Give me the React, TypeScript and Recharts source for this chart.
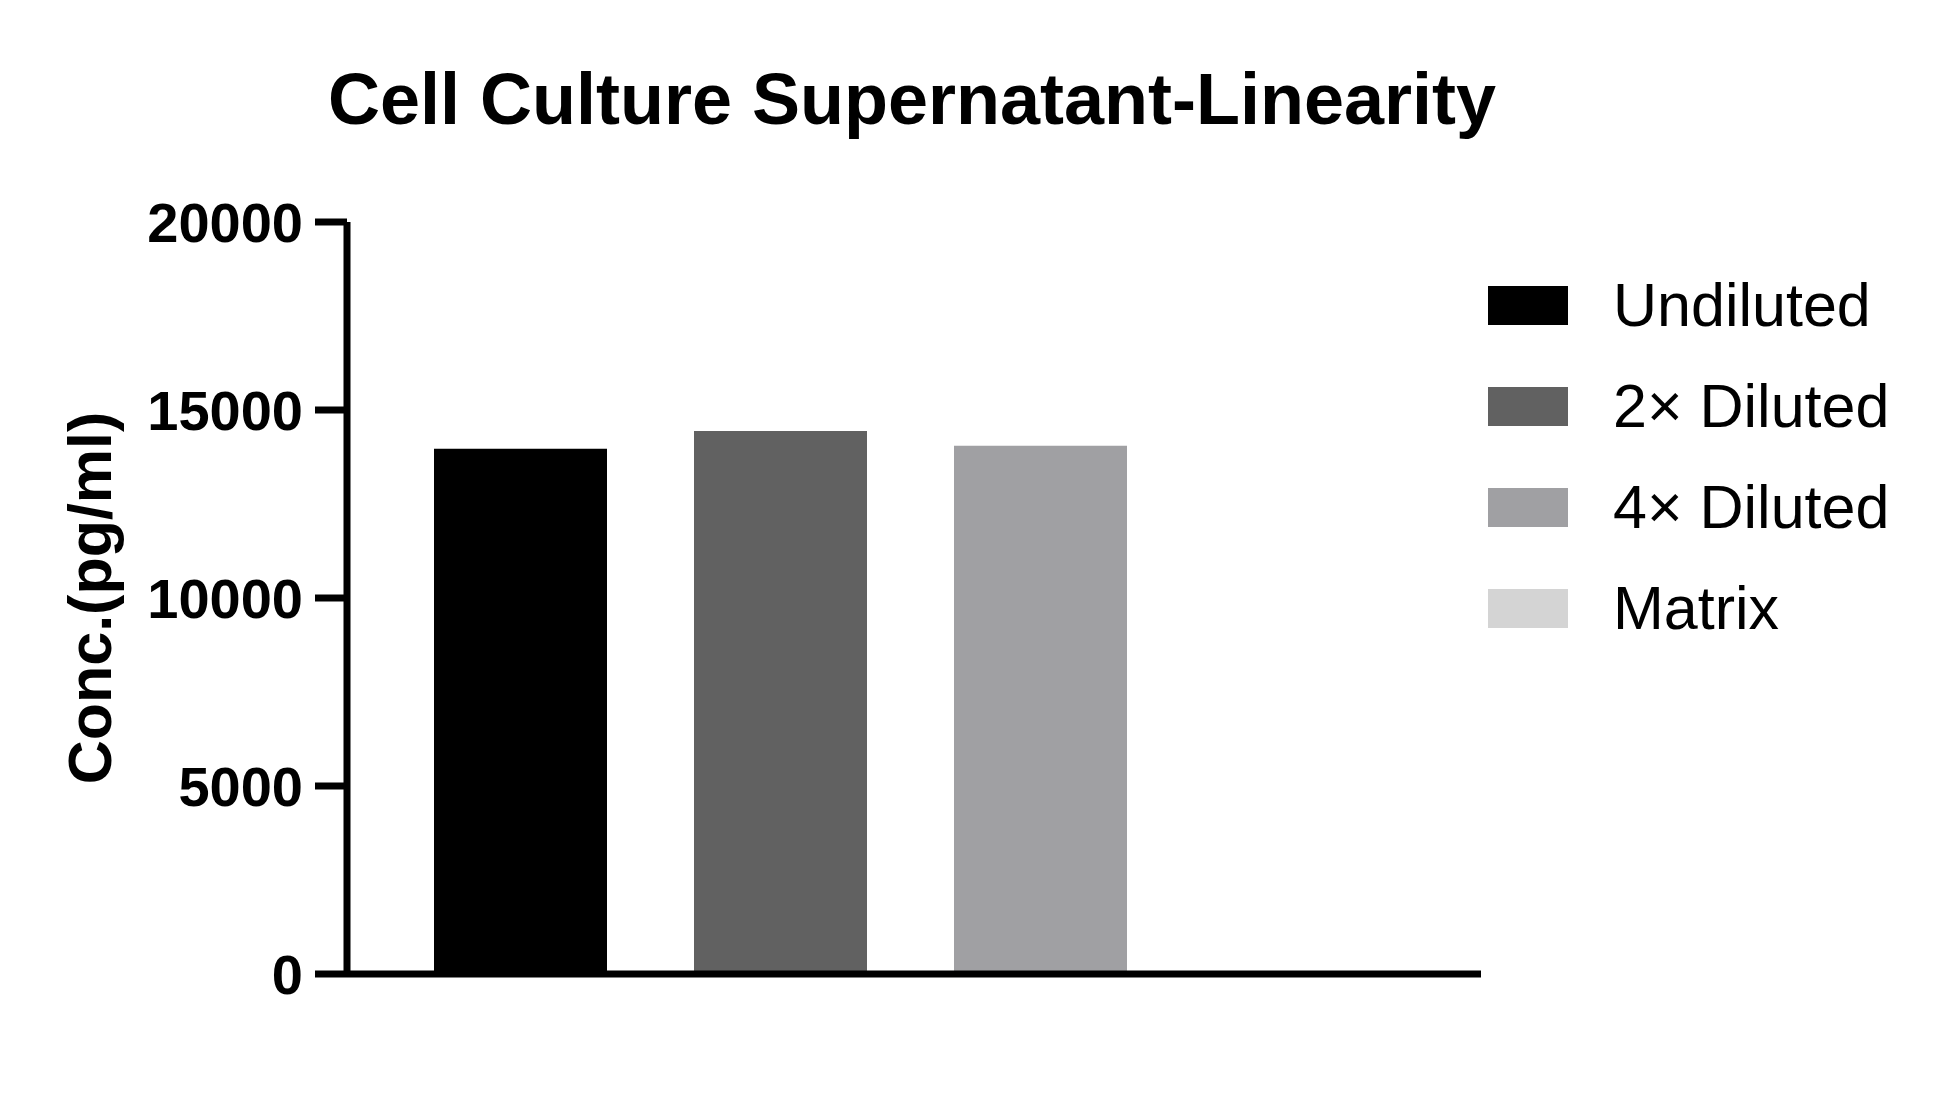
import React from 'react';
import { BarChart, Bar, XAxis, YAxis, Legend } from 'recharts';

const categories = ['Cell Culture Supernatant'];
const seriesNames = ['Undiluted', '2× Diluted', '4× Diluted', 'Matrix'];
const seriesValues = [13970, 14440, 14050, 0];
const seriesColors = ['#000000', '#616161', '#a0a0a3', '#d4d4d4'];
const yTicks = [0, 5000, 10000, 15000, 20000];

const data = categories.map((c) => {
  const row: Record<string, any> = { name: c };
  seriesNames.forEach((s, i) => {
    row[s] = seriesValues[i];
  });
  return row;
});

const FONT = '"Liberation Sans", Arial, Helvetica, sans-serif';

const LegendContent = (props: any) => {
  const payload = [...(props.payload || [])].sort(
    (a: any, b: any) => seriesNames.indexOf(a.value) - seriesNames.indexOf(b.value)
  );
  return (
    <div style={{ fontFamily: FONT }}>
      {payload.map((entry: any) => (
        <div
          key={entry.value}
          style={{ display: 'flex', alignItems: 'center', height: 101 }}
        >
          <div style={{ width: 80, height: 39, background: entry.color, marginRight: 45 }} />
          <span style={{ fontSize: 61, lineHeight: 1, color: '#000' }}>{entry.value}</span>
        </div>
      ))}
    </div>
  );
};

const YLabel = (props: any) => {
  const vb = props.viewBox || { x: 0, y: 0, width: 0, height: 0 };
  const cx = vb.x - 116;
  const cy = vb.y + vb.height / 2;
  return (
    <text
      x={cx}
      y={cy}
      transform={`rotate(-90, ${cx}, ${cy})`}
      textAnchor="middle"
      fontFamily={FONT}
      fontWeight="bold"
      fontSize={61}
      fill="#000"
    >
      Conc.(pg/ml)
    </text>
  );
};

export default function App() {
  return (
    <div style={{ position: 'absolute', left: 0, top: 0, width: 1946, height: 1094, background: '#fff' }}>
      <div
        style={{
          position: 'absolute',
          left: 0,
          width: 1824,
          top: 63,
          textAlign: 'center',
          fontFamily: FONT,
          fontWeight: 'bold',
          fontSize: 72,
          lineHeight: 1,
          color: '#000',
        }}
      >
        Cell Culture Supernatant-Linearity
      </div>
      <BarChart
        width={1946}
        height={1094}
        data={data}
        margin={{ top: 222, right: 465, bottom: 119, left: 227 }}
        barSize={173}
        barGap={87}
      >
        <XAxis
          dataKey="name"
          tick={false}
          tickLine={false}
          axisLine={{ stroke: '#000', strokeWidth: 7 }}
          height={1}
          padding={{ left: 0, right: 7 }}
        />
        <YAxis
          width={120}
          domain={[0, 20000]}
          ticks={yTicks}
          interval={0}
          tickSize={32}
          tickMargin={12}
          axisLine={{ stroke: '#000', strokeWidth: 7 }}
          tickLine={{ stroke: '#000', strokeWidth: 7 }}
          tick={{ fill: '#000', fontFamily: FONT, fontWeight: 'bold', fontSize: 56 }}
          label={<YLabel />}
        />
        {seriesNames.map((s, i) => (
          <Bar key={s} dataKey={s} name={s} fill={seriesColors[i]} isAnimationActive={false} />
        ))}
        <Legend
          layout="vertical"
          align="center"
          verticalAlign="middle"
          wrapperStyle={{ left: 1488, top: 255 }}
          content={<LegendContent />}
        />
      </BarChart>
    </div>
  );
}
